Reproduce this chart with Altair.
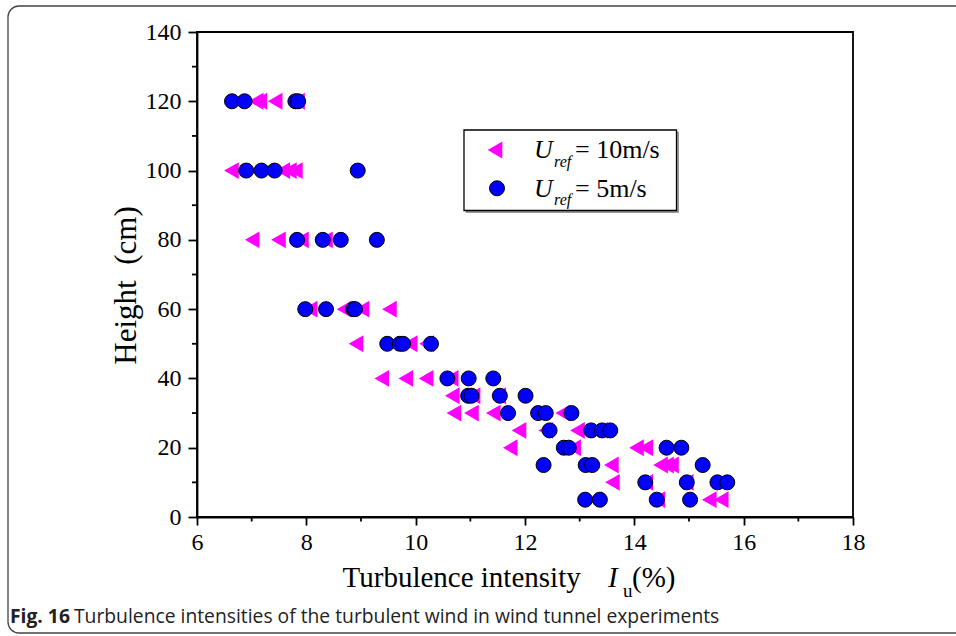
import altair as alt
import pandas as pd

# ---- data ----
heights = [120, 100, 80, 60, 50, 40, 35, 30, 25, 20, 15, 10, 5]

iu_10ms = [
    [7.08, 7.15, 7.43, 7.84],
    [6.63, 7.57, 7.69, 7.80],
    [7.01, 7.49, 7.91, 8.35],
    [8.07, 8.69, 9.02, 9.52],
    [8.91, 9.90, 10.20],
    [9.38, 9.82, 10.19, 10.65],
    [10.67, 11.05, 11.52],
    [10.70, 11.02, 11.42, 12.69],
    [11.89, 12.38, 12.96, 13.38],
    [11.73, 12.89, 14.04, 14.21],
    [13.58, 14.48, 14.59, 14.68],
    [13.60, 14.21, 14.95],
    [13.27, 14.43, 15.37, 15.59],
]

iu_5ms = [
    [6.64, 6.87, 7.80, 7.85],
    [6.90, 7.18, 7.42, 8.94],
    [7.83, 8.30, 8.63, 9.29],
    [7.98, 8.36, 8.86, 8.89],
    [9.48, 9.71, 9.77, 10.28],
    [10.58, 10.97, 11.42],
    [10.96, 11.02, 11.54, 12.01],
    [11.69, 12.24, 12.38, 12.85],
    [12.45, 13.21, 13.41, 13.56],
    [12.71, 12.80, 14.59, 14.86],
    [12.34, 13.11, 13.23, 15.25],
    [14.20, 14.96, 15.52, 15.70],
    [13.10, 13.37, 14.41, 15.02],
]

x_major = [6, 8, 10, 12, 14, 16, 18]
x_minor = [7, 9, 11, 13, 15, 17]
y_major = [0, 20, 40, 60, 80, 100, 120, 140]
y_minor = [10, 30, 50, 70, 90, 110, 130]

caption_bold = "Fig. 16"
caption_text = "Turbulence intensities of the turbulent wind in wind tunnel experiments"

# ---- build tables ----
rows = []
for h, xs in zip(heights, iu_10ms):
    for v in xs:
        rows.append({"iu": v, "h": h, "s": "10"})
for h, xs in zip(heights, iu_5ms):
    for v in xs:
        rows.append({"iu": v, "h": h, "s": "5"})
df = pd.DataFrame(rows)
one = pd.DataFrame({"k": [0]})

W, H = 656, 485
SERIF = "Liberation Serif"
SANS = "Open Sans"
xscale = alt.Scale(domain=[6, 18], nice=False, zero=False)
yscale = alt.Scale(domain=[0, 140], nice=False, zero=False)

xaxis = alt.Axis(values=x_major, format="d", tickSize=8, tickWidth=1.8, tickColor="black",
                 domainColor="black", domainWidth=1.8, labelFont=SERIF, labelFontSize=24,
                 labelColor="black", labelPadding=5, grid=False, title=None, labelFlush=False,
                 labelOverlap=False)
yaxis = alt.Axis(values=y_major, format="d", tickSize=9, tickWidth=1.8, tickColor="black",
                 domainColor="black", domainWidth=1.8, labelFont=SERIF, labelFontSize=24,
                 labelColor="black", labelPadding=7, grid=False, labelFlush=False,
                 labelOverlap=False,
                 title="Height\u00a0\u00a0(cm)", titleFont=SERIF, titleFontSize=31,
                 titleFontWeight="normal", titleColor="black", titleAngle=270,
                 titleX=-62, titleY=253, titleAlign="center", titleBaseline="alphabetic")

X = alt.X("iu:Q", scale=xscale, axis=xaxis)
Y = alt.Y("h:Q", scale=yscale, axis=yaxis)

tri = alt.Chart(df).transform_filter(alt.datum.s == "10").mark_point(
    shape="triangle-left", filled=True, fill="#FF00FF", color="#FF00FF", size=285, opacity=1,
    strokeWidth=0).encode(x=X, y=Y)

circ = alt.Chart(df).transform_filter(alt.datum.s == "5").mark_point(
    shape="circle", filled=True, fill="#0000FF", stroke="black", strokeWidth=1, size=225,
    opacity=1).encode(x=X, y=Y)

# minor ticks (same scales, drawn as short rules just outside the axes)
minor_x = alt.Chart(pd.DataFrame({"iu": x_minor})).mark_rule(color="black", strokeWidth=1.8).encode(
    x=X, y=alt.value(H), y2=alt.value(H + 4.5))
minor_y = alt.Chart(pd.DataFrame({"h": y_minor})).mark_rule(color="black", strokeWidth=1.8).encode(
    y=Y, x=alt.value(0), x2=alt.value(-5))

# outer rounded frame
frame = alt.Chart(one).mark_rect(fillOpacity=0, stroke="#444444", strokeWidth=1.3,
                                 cornerRadius=11).encode(
    x=alt.value(-189), x2=alt.value(790), y=alt.value(-26), y2=alt.value(601))

# legend box (with shadow)
leg_shadow = alt.Chart(one).mark_rect(fill="#999999", stroke="#999999", strokeWidth=1).encode(
    x=alt.value(269), x2=alt.value(481.5), y=alt.value(100), y2=alt.value(180.5))
leg_box = alt.Chart(one).mark_rect(fill="white", stroke="black", strokeWidth=1.3).encode(
    x=alt.value(267), x2=alt.value(479.5), y=alt.value(98), y2=alt.value(178.5))
leg_tri = alt.Chart(one).mark_point(shape="triangle-left", filled=True, fill="#FF00FF",
                                    size=285, opacity=1, strokeWidth=0).encode(
    x=alt.value(298), y=alt.value(118))
leg_circ = alt.Chart(one).mark_point(shape="circle", filled=True, fill="#0000FF", stroke="black",
                                     strokeWidth=1, size=225, opacity=1).encode(
    x=alt.value(300), y=alt.value(156.3))


def txt(s, x, y, size, style="normal", weight="normal", font=SERIF, align="left", color="black"):
    return alt.Chart(one).mark_text(text=s, font=font, fontSize=size, fontStyle=style,
                                    fontWeight=weight, align=align, baseline="alphabetic",
                                    color=color).encode(
        x=alt.value(x), y=alt.value(y))


texts = [
    # legend labels
    txt("U", 337, 126.3, 26, style="italic"),
    txt("ref", 357, 134.7, 16, style="italic"),
    txt("= 10m/s", 378, 126.3, 26),
    txt("U", 337, 164.7, 26, style="italic"),
    txt("ref", 357, 173, 16, style="italic"),
    txt("= 5m/s", 378, 164.7, 26),
    # x axis title
    txt("Turbulence intensity", 383.7, 554.7, 29, align="right"),
    txt("I", 411, 554.7, 29, style="italic"),
    txt("u", 426, 565, 19),
    txt("(%)", 435, 554.7, 29),
    # caption
    txt(caption_bold, -187, 591, 19.3, weight="bold", font=SANS, color="#222222"),
    txt(caption_text, -123, 591, 19.3, font=SANS, color="#222222"),
]

chart = alt.layer(frame, minor_x, minor_y, tri, circ, leg_shadow, leg_box, leg_tri, leg_circ,
                  *texts).properties(
    width=W, height=H,
    autosize=alt.AutoSizeParams(type="none"),
    padding={"left": 197, "top": 32, "right": 103, "bottom": 119},
    background="white",
).configure_view(stroke="black", strokeWidth=1.8)

chart.save("out.html", embed_options={"renderer": "svg", "actions": False})
